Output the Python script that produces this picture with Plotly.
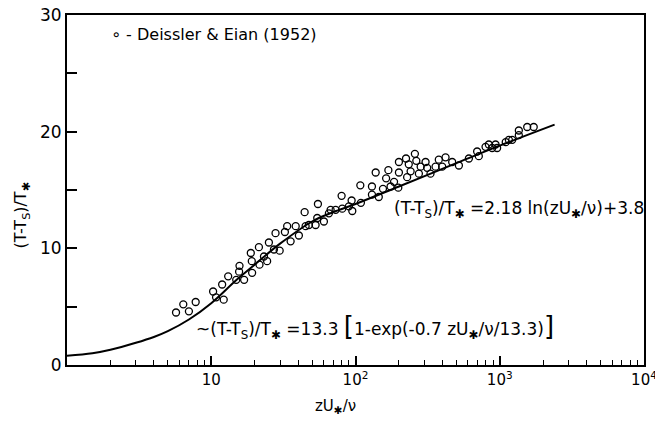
import plotly.graph_objects as go

# Deissler & Eian (1952) data
data_x = [5.7, 6.4, 7.0, 7.8, 10.3, 10.8, 12.2, 11.9, 13.1, 14.9, 15.7, 15.6, 16.9,
          18.8, 19.1, 19.2, 21.4, 21.6, 23.2, 25.1, 24.4, 27.2, 29.8, 27.9, 32.4,
          33.6, 35.5, 38.5, 40.5, 44.4, 45.1, 47.5, 52.9, 54.9, 54.3, 60.4, 65.4,
          67.2, 72.8, 80.1, 80.9, 90, 94, 95, 108, 109, 130, 130, 138, 145, 155,
          163, 169, 175, 185, 198, 200, 200, 224, 228, 234, 241, 258, 264, 275,
          283, 306, 314, 331, 359, 378, 399, 421, 468, 521, 611, 697, 716, 797,
          840, 886, 935, 959, 1100, 1156, 1220, 1356, 1356, 1550, 1720]
data_y = [4.5, 5.2, 4.6, 5.4, 6.3, 5.8, 5.6, 6.9, 7.6, 7.3, 8.5, 8.0, 7.3,
          9.6, 8.9, 7.9, 10.1, 8.6, 9.3, 10.5, 8.9, 9.9, 9.8, 11.3, 11.4,
          11.9, 10.6, 11.9, 11.1, 13.1, 11.9, 12.0, 12.0, 13.8, 12.6, 12.3, 13.0,
          13.3, 13.3, 14.5, 13.4, 13.6, 14.1, 13.2, 15.4, 13.9, 15.3, 14.6, 16.5, 14.4, 15.1,
          16.0, 16.7, 15.3, 15.7, 15.2, 16.5, 17.4, 17.7, 16.1, 17.2, 16.6, 18.1, 17.5, 16.4,
          17.0, 17.4, 16.9, 16.4, 17.0, 17.6, 17.0, 17.8, 17.4, 17.1, 17.7, 18.3, 17.9, 18.7,
          18.9, 18.6, 18.9, 18.6, 19.1, 19.3, 19.3, 19.7, 20.1, 20.4, 20.4]

# fitted curve
curve_x = [1, 1.5, 2, 3, 4, 5, 7, 10, 15, 20, 30, 50, 70, 100, 200, 500, 1000, 2400]
curve_y = [0.8, 1.0, 1.3, 1.9, 2.4, 2.9, 3.9, 5.3, 7.3, 8.6, 10.4, 12.3, 13.1, 13.8,
           15.3, 17.3, 18.8, 20.6]

x_ticks = [10, 100, 1000, 10000]
x_labels = ["10", "10<sup>2</sup>", "10<sup>3</sup>", "10<sup>4</sup>"]
x_minor = [d * 10 ** e for e in range(4) for d in range(2, 10)]
y_ticks = [0, 5, 10, 15, 20, 25, 30]
y_labels = ["0", "", "10", "", "20", "", "30"]

FONT = "DejaVu Sans"
STAR = "<sub>\u2731</sub>"
BIG = "<span style='font-size:26px'>{}</span>"


def txt(size):
    return dict(size=size, family=FONT, color="black")


fig = go.Figure()
fig.add_trace(go.Scatter(x=curve_x, y=curve_y, mode="lines",
                         line=dict(color="black", width=2, shape="spline")))
fig.add_trace(go.Scatter(x=data_x, y=data_y, mode="markers",
                         marker=dict(symbol="circle-open", size=7, color="black",
                                     line=dict(width=1.3))))

fig.add_annotation(x=0.29, y=28.3, xref="x", yref="y", xanchor="left", yanchor="middle",
                   text="\u2218 - Deissler &amp; Eian (1952)", showarrow=False,
                   font=txt(16))
fig.add_annotation(x=2.25, y=13.3, xref="x", yref="y", xanchor="left", yanchor="middle",
                   text=f"(T-T<sub>S</sub>)/T{STAR} =2.18 ln(zU{STAR}/\u03bd)+3.8",
                   showarrow=False, font=txt(17))
fig.add_annotation(x=0.88, y=3.3, xref="x", yref="y", xanchor="left", yanchor="middle",
                   text=(f"~(T-T<sub>S</sub>)/T{STAR} =13.3 " + BIG.format("[")
                         + f"1-exp(-0.7 zU{STAR}/\u03bd/13.3)" + BIG.format("]")),
                   showarrow=False, font=txt(17))
# axis titles
fig.add_annotation(x=-0.078, y=0.43, xref="paper", yref="paper", textangle=-90,
                   xanchor="center", yanchor="middle",
                   text=f"(T-T<sub>S</sub>)/T{STAR}", showarrow=False, font=txt(16))
fig.add_annotation(x=0.466, y=-0.118, xref="paper", yref="paper",
                   xanchor="center", yanchor="middle",
                   text=f"zU{STAR}/\u03bd", showarrow=False, font=txt(15))

fig.update_xaxes(type="log", range=[0, 4], tickvals=x_ticks, ticktext=x_labels,
                 ticks="inside", ticklen=9, tickwidth=1.5, tickcolor="black",
                 minor=dict(tickvals=x_minor, ticks="inside", ticklen=5,
                            tickwidth=1.2, tickcolor="black"),
                 showline=True, linewidth=2, linecolor="black", mirror=True,
                 showgrid=False, zeroline=False, tickfont=txt(15),
                 ticklabeloverflow="allow", automargin=False)
fig.update_yaxes(range=[0, 30], tickvals=y_ticks, ticktext=y_labels,
                 ticks="inside", ticklen=10, tickwidth=1.5, tickcolor="black",
                 showline=True, linewidth=2, linecolor="black", mirror=True,
                 showgrid=False, zeroline=False, tickfont=txt(17),
                 ticklabeloverflow="allow", automargin=False)
fig.update_layout(width=655, height=421, showlegend=False,
                  margin=dict(l=67, r=11, t=15, b=56),
                  plot_bgcolor="white", paper_bgcolor="white")

fig.write_html("out.html", config={"displayModeBar": False},
               post_script="document.body.style.margin='0';")
